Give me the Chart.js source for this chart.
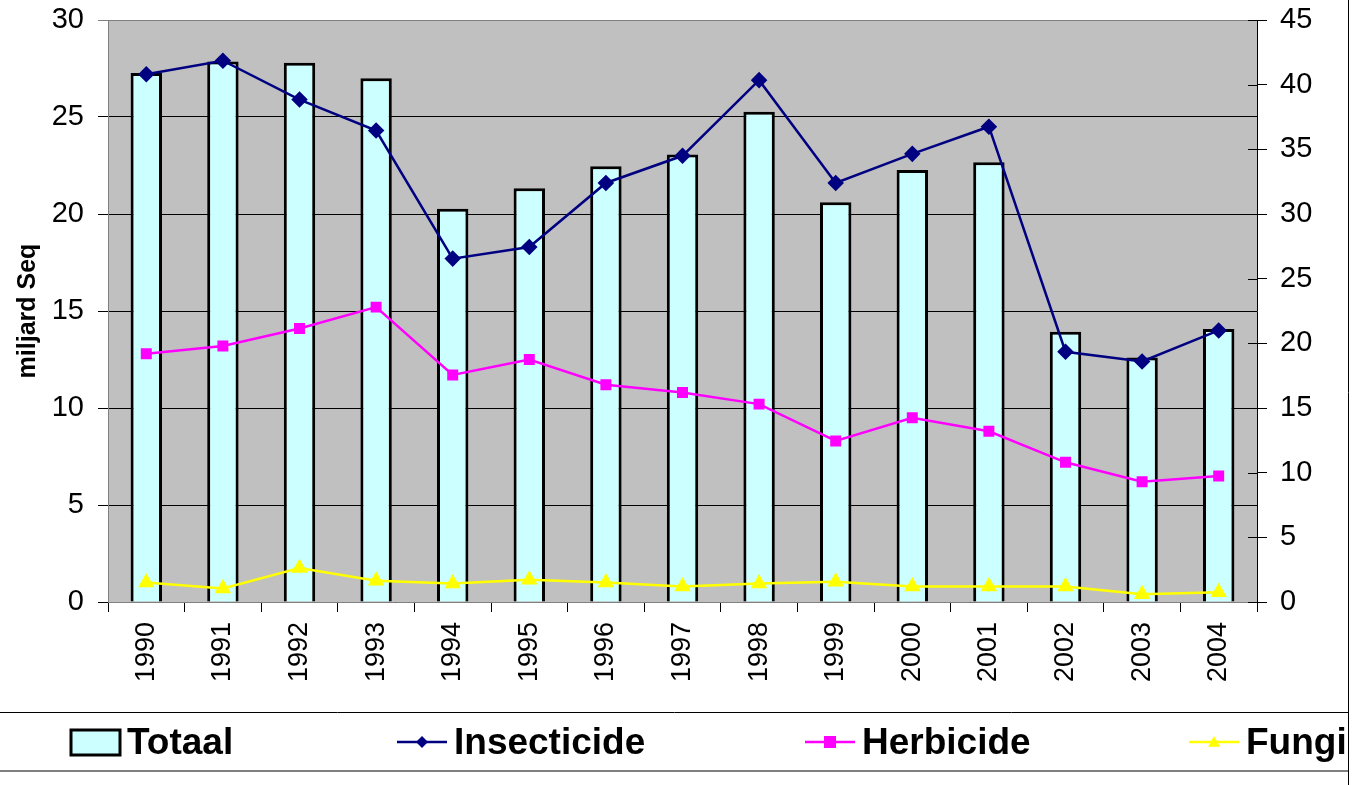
<!DOCTYPE html>
<html>
<head>
<meta charset="utf-8">
<script src="https://cdn.jsdelivr.net/npm/chart.js"></script>
<style>
  html, body { margin: 0; padding: 0; background: #fff; }
  canvas { display: block; }
</style>
</head>
<body>
<canvas id="chart" width="1353" height="785"></canvas>
<script>
// Bestrijdingsmiddelen 1990-2004

const YEARS = ['1990', '1991', '1992', '1993', '1994', '1995', '1996', '1997',
  '1998', '1999', '2000', '2001', '2002', '2003', '2004'];

// Totaal is read against the right axis (0-45)
const TOTAAL = [40.9, 41.8, 41.7, 40.5, 30.4, 32.0, 33.7, 34.6, 37.9, 30.9, 33.4, 34.0, 20.9, 18.9, 21.1];
// lines against the left axis (0-30)
const INSECTICIDE = [27.2, 27.9, 25.9, 24.3, 17.7, 18.3, 21.6, 23.0, 26.9, 21.6, 23.1, 24.5, 12.9, 12.4, 14.0];
const HERBICIDE = [12.8, 13.2, 14.1, 15.2, 11.7, 12.5, 11.2, 10.8, 10.2, 8.3, 9.5, 8.8, 7.2, 6.2, 6.5];
const FUNGICIDE = [1.0, 0.7, 1.75, 1.1, 0.95, 1.15, 1.0, 0.8, 0.95, 1.05, 0.8, 0.8, 0.8, 0.4, 0.5];

const LEFT_TICKS = [0, 5, 10, 15, 20, 25, 30];
const RIGHT_TICKS = [0, 5, 10, 15, 20, 25, 30, 35, 40, 45];

const FONT = "Arial, 'Liberation Sans', sans-serif";
const NAVY = '#000080';
const MAGENTA = '#ff00ff';
const YELLOW = '#ffff00';
const CYAN = '#ccffff';

function marker(ctx, style, x, y, r, color) {
  ctx.save();
  ctx.fillStyle = color;
  ctx.beginPath();
  if (style === 'rectRot') {
    ctx.moveTo(x, y - r); ctx.lineTo(x + r, y); ctx.lineTo(x, y + r); ctx.lineTo(x - r, y);
  } else if (style === 'rect') {
    ctx.rect(x - r, y - r, r * 2, r * 2);
  } else {
    ctx.moveTo(x, y - r); ctx.lineTo(x + r, y + r * 0.8); ctx.lineTo(x - r, y + r * 0.8);
  }
  ctx.closePath();
  ctx.fill();
  ctx.restore();
}

const plotBackground = {
  id: 'plotBackground',
  beforeDraw(chart) {
    const { ctx, chartArea: a } = chart;
    ctx.save();
    ctx.fillStyle = '#c0c0c0';
    ctx.fillRect(a.left, a.top, a.right - a.left, a.bottom - a.top);
    ctx.restore();
  },
};

// excel style frame, inner ticks on the right axis and the bottom legend
const frameAndLegend = {
  id: 'frameAndLegend',
  afterDraw(chart) {
    const { ctx, chartArea: a } = chart;
    const yr = chart.scales.yR;
    ctx.save();
    ctx.strokeStyle = '#000';
    ctx.lineWidth = 1;
    RIGHT_TICKS.forEach(v => {
      const y = Math.round(yr.getPixelForValue(v)) + 0.5;
      ctx.beginPath();
      ctx.moveTo(a.right - 9, y);
      ctx.lineTo(a.right, y);
      ctx.stroke();
    });

    // legend box
    ctx.strokeStyle = '#000';
    ctx.beginPath(); ctx.moveTo(0, 712.5); ctx.lineTo(1349, 712.5); ctx.stroke();
    ctx.strokeStyle = '#808080';
    ctx.lineWidth = 2;
    ctx.beginPath(); ctx.moveTo(0, 771); ctx.lineTo(1349, 771); ctx.stroke();
    ctx.strokeStyle = '#000';
    ctx.lineWidth = 1;
    ctx.beginPath(); ctx.moveTo(1348.5, 0); ctx.lineTo(1348.5, 785); ctx.stroke();

    ctx.beginPath();
    ctx.rect(0, 713, 1348, 57);
    ctx.clip();

    const xs = [70, 397, 805, 1189];
    const ly = 742;
    ctx.font = 'bold 37px ' + FONT;
    ctx.textBaseline = 'middle';
    ctx.textAlign = 'left';
    chart.data.datasets.forEach((ds, i) => {
      const x = xs[i];
      if (ds.type === 'bar') {
        ctx.fillStyle = CYAN;
        ctx.fillRect(x + 1, 730, 49, 25);
        ctx.strokeStyle = '#000';
        ctx.lineWidth = 3;
        ctx.strokeRect(x + 1, 730, 49, 25);
      } else {
        ctx.strokeStyle = ds.borderColor;
        ctx.lineWidth = 2.5;
        ctx.beginPath(); ctx.moveTo(x, ly); ctx.lineTo(x + 50, ly); ctx.stroke();
        marker(ctx, ds.pointStyle, x + 25, ly, 6, ds.borderColor);
      }
      ctx.fillStyle = '#000';
      ctx.fillText(ds.label, x + 57, ly + 2);
    });
    ctx.restore();
  },
};

// fixed axis boxes so the plot area sits where the original has it
function fixVertical(width) {
  return s => {
    s.width = width;
    s.paddingTop = 0;
    s.paddingBottom = 0;
  };
}

new Chart(document.getElementById('chart'), {
  data: {
    labels: YEARS,
    datasets: [
      {
        type: 'bar',
        label: 'Totaal',
        data: TOTAAL,
        yAxisID: 'yR',
        backgroundColor: CYAN,
        borderColor: '#000',
        borderWidth: 3,
        barPercentage: 0.41,
        categoryPercentage: 1,
        order: 2,
      },
      {
        type: 'line',
        label: 'Insecticide',
        data: INSECTICIDE,
        yAxisID: 'y',
        borderColor: NAVY,
        backgroundColor: NAVY,
        borderWidth: 2.5,
        pointStyle: 'rectRot',
        pointRadius: 6.5,
        tension: 0,
        order: 1,
      },
      {
        type: 'line',
        label: 'Herbicide',
        data: HERBICIDE,
        yAxisID: 'y',
        borderColor: MAGENTA,
        backgroundColor: MAGENTA,
        borderWidth: 2.5,
        pointStyle: 'rect',
        pointRadius: 6,
        tension: 0,
        order: 1,
      },
      {
        type: 'line',
        label: 'Fungicide',
        data: FUNGICIDE,
        yAxisID: 'y',
        borderColor: YELLOW,
        backgroundColor: YELLOW,
        borderWidth: 2.5,
        pointStyle: 'triangle',
        pointRadius: 7,
        tension: 0,
        order: 1,
      },
    ],
  },
  options: {
    responsive: false,
    animation: false,
    layout: { padding: { top: 20, left: 0, right: 0, bottom: 73 } },
    plugins: {
      legend: { display: false },
      tooltip: { enabled: false },
    },
    scales: {
      x: {
        grid: { offset: true, drawOnChartArea: false, color: '#000', tickLength: 10 },
        border: { color: '#808080' },
        ticks: { color: '#000', font: { size: 27, family: FONT }, minRotation: 90, maxRotation: 90, padding: 10 },
        afterFit(s) { s.height = 110; },
      },
      y: {
        position: 'left',
        min: 0,
        max: 30,
        afterBuildTicks(s) { s.ticks = LEFT_TICKS.map(v => ({ value: v })); },
        grid: {
          color: ctx => (ctx.tick && ctx.tick.value === 30 ? '#808080' : '#000'),
          tickLength: 10,
        },
        border: { color: '#808080' },
        ticks: { color: '#000', font: { size: 29, family: FONT }, padding: 14 },
        title: { display: true, text: 'miljard Seq', color: '#000', font: { size: 25, weight: 'bold', family: FONT }, padding: { top: 13, bottom: 0 } },
        afterFit: fixVertical(108),
      },
      yR: {
        position: 'right',
        min: 0,
        max: 45,
        afterBuildTicks(s) { s.ticks = RIGHT_TICKS.map(v => ({ value: v })); },
        grid: { drawOnChartArea: false, color: '#000', tickLength: 10 },
        border: { color: '#000' },
        ticks: { color: '#000', font: { size: 29, family: FONT }, padding: 13 },
        afterFit: fixVertical(96),
      },
    },
  },
  plugins: [plotBackground, frameAndLegend],
});
</script>
</body>
</html>
